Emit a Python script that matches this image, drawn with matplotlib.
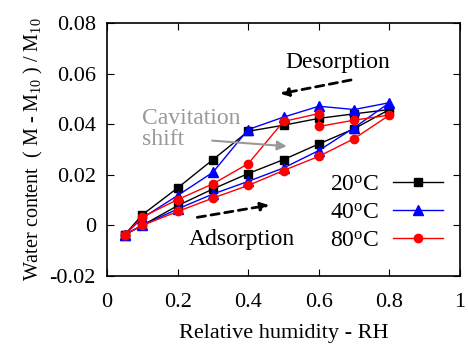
import matplotlib
matplotlib.use('Agg')
import matplotlib.pyplot as plt

plt.rcParams['font.family'] = 'Liberation Serif'
plt.rcParams['mathtext.fontset'] = 'custom'
plt.rcParams['mathtext.rm'] = 'Liberation Serif'
plt.rcParams['mathtext.it'] = 'Liberation Serif:italic'

# RH sequence: adsorption up to 0.8, then desorption back down
rh = [0.05, 0.1, 0.2, 0.3, 0.4, 0.5, 0.6, 0.7, 0.8,
      0.7, 0.6, 0.5, 0.4, 0.3, 0.2, 0.1, 0.05]
rh_80 = [0.05, 0.1, 0.2, 0.3, 0.4, 0.5, 0.6, 0.7, 0.8,
         0.7, 0.6, 0.6, 0.5, 0.4, 0.3, 0.2, 0.1, 0.05]

wc_20 = [-0.0037, 0.0, 0.0078, 0.0144, 0.0205, 0.026, 0.0322, 0.0382, 0.0458,
         0.0441, 0.0423, 0.0396, 0.0372, 0.026, 0.0148, 0.0042, -0.0037]
wc_40 = [-0.0037, 0.0, 0.0065, 0.0124, 0.0174, 0.0227, 0.0296, 0.0386, 0.0485,
         0.0458, 0.0471, 0.0428, 0.0379, 0.021, 0.0118, 0.0029, -0.0037]
wc_80 = [-0.0037, 0.0, 0.0055, 0.0108, 0.0158, 0.0217, 0.0273, 0.0343, 0.0436,
         0.0416, 0.0391, 0.0442, 0.0411, 0.0244, 0.0164, 0.0102, 0.0033, -0.0037]

xticks = [0, 0.2, 0.4, 0.6, 0.8, 1]
xticklabels = ['0', '0.2', '0.4', '0.6', '0.8', '1']
yticks = [-0.02, 0, 0.02, 0.04, 0.06, 0.08]
yticklabels = ['-0.02', '0', '0.02', '0.04', '0.06', '0.08']

fig = plt.figure(figsize=(4.68, 3.46), dpi=100)
ax = fig.add_axes([0.2286, 0.2023, 0.7544, 0.7312])

ax.plot(rh, wc_20, color='black', marker='s', markersize=5.5, lw=1, label='20$^{\\rm o}$C')
ax.plot(rh, wc_40, color='blue', marker='^', markersize=6.5, lw=1, label='40$^{\\rm o}$C')
ax.plot(rh_80, wc_80, color='red', marker='o', markersize=6, lw=1, label='80$^{\\rm o}$C')

ax.set_xlim(0, 1)
ax.set_ylim(-0.02, 0.08)
ax.set_xticks(xticks)
ax.set_xticklabels(xticklabels)
ax.set_yticks(yticks)
ax.set_yticklabels(yticklabels)
ax.tick_params(direction='in', top=True, right=True, labelsize=16, length=5)
ax.tick_params(axis='x', pad=12)
ax.tick_params(axis='y', pad=8)
for s in ax.spines.values():
    s.set_linewidth(1.2)

ax.set_xlabel('Relative humidity - RH', fontsize=16, labelpad=9)
ax.set_ylabel('Water content  ( M - M$_{10}$ ) / M$_{10}$', fontsize=14.5, labelpad=3)

ax.legend(loc='lower right', bbox_to_anchor=(0.985, 0.05), frameon=False,
          markerfirst=False, fontsize=17, handlelength=2.1,
          labelspacing=0.28, borderpad=0.0, handletextpad=0.6)

# annotations
ax.text(0.654, 0.0643, 'Desorption', fontsize=17, ha='center', va='center')
ax.annotate('', xy=(0.483, 0.0518), xytext=(0.699, 0.0577),
            arrowprops=dict(arrowstyle='-|>', color='black', lw=2, ls=(0, (3, 2)),
                            mutation_scale=12))
ax.text(0.1, 0.0383, 'Cavitation\nshift', fontsize=17, color='#999999',
        ha='left', va='center', linespacing=1.0)
ax.annotate('', xy=(0.517, 0.0312), xytext=(0.29, 0.0336),
            arrowprops=dict(arrowstyle='-|>', color='#999999', lw=1.5,
                            mutation_scale=14))
ax.text(0.381, -0.0057, 'Adsorption', fontsize=17, ha='center', va='center')
ax.annotate('', xy=(0.467, 0.0082), xytext=(0.248, 0.003),
            arrowprops=dict(arrowstyle='-|>', color='black', lw=2, ls=(0, (3, 2)),
                            mutation_scale=12))

fig.savefig('out.png', dpi=100)
